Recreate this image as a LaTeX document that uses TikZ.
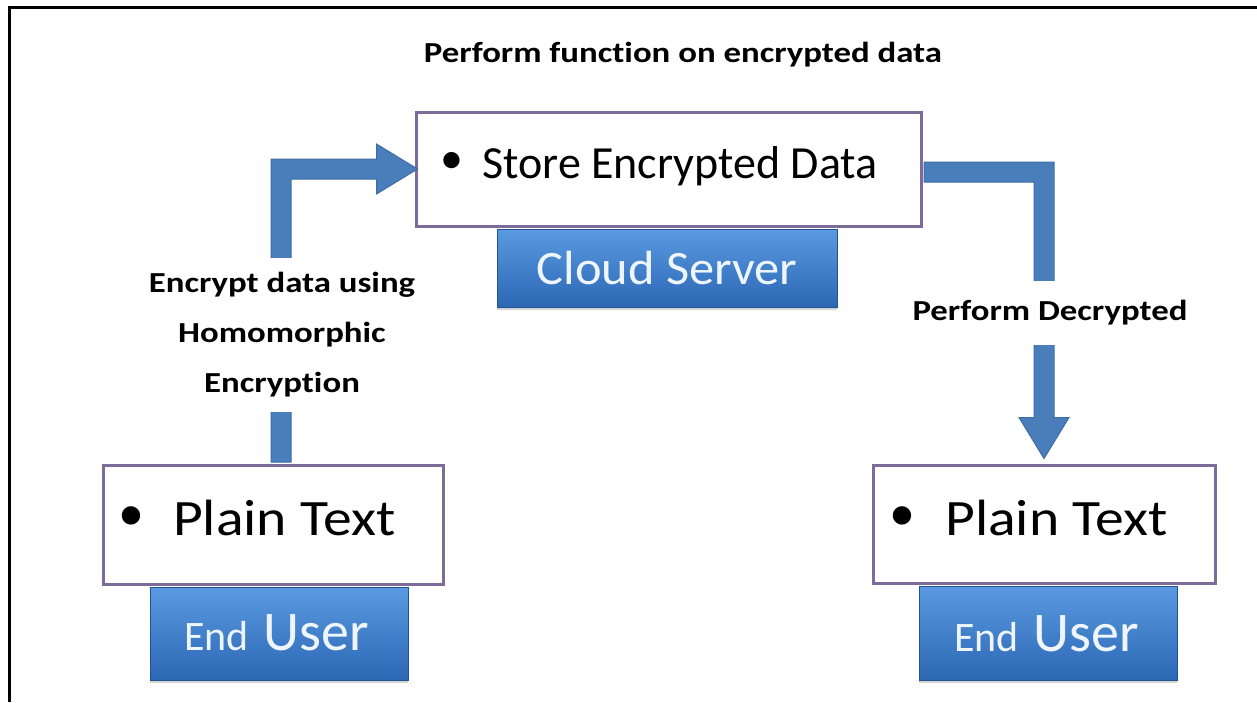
\documentclass[tikz,border=0pt]{standalone}
\usepackage{fontspec}
\setmainfont{Carlito}[Ligatures=NoCommon]
\usetikzlibrary{calc,shadows}
\definecolor{boxedge}{HTML}{7D6B99}
\definecolor{arrowfill}{HTML}{4A7EBB}
\definecolor{arrowedge}{HTML}{3D6CA6}
\definecolor{btntop}{HTML}{5A9AE2}
\definecolor{btnbot}{HTML}{2C67B4}
\definecolor{btntext}{HTML}{EEF5FC}
\newcommand{\wide}[2]{\scalebox{#1}[1]{#2}}
\newcommand{\eulabel}{{\fontsize{42}{42}\selectfont End}\hspace{15pt}{\fontsize{56}{56}\selectfont User}}
\begin{document}
\begin{tikzpicture}[x=1pt,y=-1pt,
  textbox/.style={draw=boxedge, line width=3pt, fill=white, inner sep=0pt, minimum width=#1},
  btn/.style={draw=btnbot!80!black, line width=0.6pt, top color=btntop, bottom color=btnbot,
    inner sep=0pt, minimum width=#1, text=btntext,
    drop shadow={opacity=0.35, shadow xshift=0pt, shadow yshift=-3pt}},
  bul/.style={inner sep=0pt, anchor=center, font=\fontsize{46}{50}\selectfont},
  bigtxt/.style={inner sep=0pt, anchor=base west, font=\fontsize{#1}{#1}\selectfont},
  lbl/.style={font=\bfseries\fontsize{29}{50}\selectfont, align=center, fill=white, inner xsep=4pt},
  arrowshape/.style={fill=arrowfill, draw=arrowedge, line width=1pt, line join=miter}
]
\useasboundingbox (0,0) rectangle (1257,702);
% frame
\draw[line width=3pt, black] (9.5,702) -- (9.5,7) -- (1257,7);

% title
\node[font=\bfseries\fontsize{29}{30}\selectfont, inner sep=0pt] (title) at (683,55) {\wide{1.2}{Perform function on encrypted data}};

% blue buttons
\node[btn=340pt, minimum height=78pt] (cloud) at (667,268) {};
\node[btn=258pt, minimum height=93pt] (euL) at (279,633.5) {};
\node[btn=258pt, minimum height=94pt] (euR) at (1048,633) {};
\node[inner sep=0pt, text=btntext, font=\fontsize{48}{48}\selectfont] (cloudt) at (cloud.center) {\wide{1.05}{Cloud Server}};
\node[inner sep=0pt, text=btntext, anchor=base west] (euLt) at (184,650) {\eulabel};
\node[inner sep=0pt, text=btntext, anchor=base west] (euRt) at (954,651) {\eulabel};

% white boxes
\node[textbox=505pt, minimum height=114pt] (store) at (668.5,169) {};
\node[textbox=340pt, minimum height=119pt] (ptL) at (273,524.5) {};
\node[textbox=342pt, minimum height=118pt] (ptR) at (1044,524) {};

\node[bul] (bs) at (452,163) {•};
\node[bigtxt=46] (st) at (482,178) {Store Encrypted Data};
\node[bul, font=\fontsize{52}{52}\selectfont] (bl) at (131,519) {•};
\node[bigtxt=51] (plt) at (173,535) {\wide{1.13}{Plain Text}};
\node[bul, font=\fontsize{52}{52}\selectfont] (br) at (902,519) {•};
\node[bigtxt=51] (prt) at (945,535) {\wide{1.13}{Plain Text}};

% left arrow
\coordinate (lx) at ($(ptL.north)+(8,0)$);
\draw[arrowshape] ($(lx)+(-10,-1.5)$) -- ($(lx |- store.west)+(-10,-10)$) -- ($(store.west)+(-38,-10)$)
  -- ($(store.west)+(-38,-25)$) -- ($(store.west)+(3,0)$) -- ($(store.west)+(-38,25)$)
  -- ($(store.west)+(-38,10)$) -- ($(lx |- store.west)+(10,10)$) -- ($(lx)+(10,-1.5)$) -- cycle;
% right arrow
\draw[arrowshape] ($(store.east)+(1.5,-7)$) -- ($(ptR.north |- store.east)+(10,-7)$) -- ($(ptR.north)+(10,-46)$)
  -- ($(ptR.north)+(25,-46)$) -- ($(ptR.north)+(0,-5)$) -- ($(ptR.north)+(-25,-46)$)
  -- ($(ptR.north)+(-10,-46)$) -- ($(ptR.north |- store.east)+(-10,13)$) -- ($(store.east)+(1.5,13)$) -- cycle;

% labels over the arrows
\node[lbl, inner ysep=15pt] (enc) at (282,335) {\wide{1.2}{Encrypt data using}\\\wide{1.2}{Homomorphic}\\\wide{1.2}{Encryption}};
\node[lbl, inner ysep=20pt] (dec) at (1050,313) {\wide{1.2}{Perform Decrypted}};
\end{tikzpicture}
\end{document}
